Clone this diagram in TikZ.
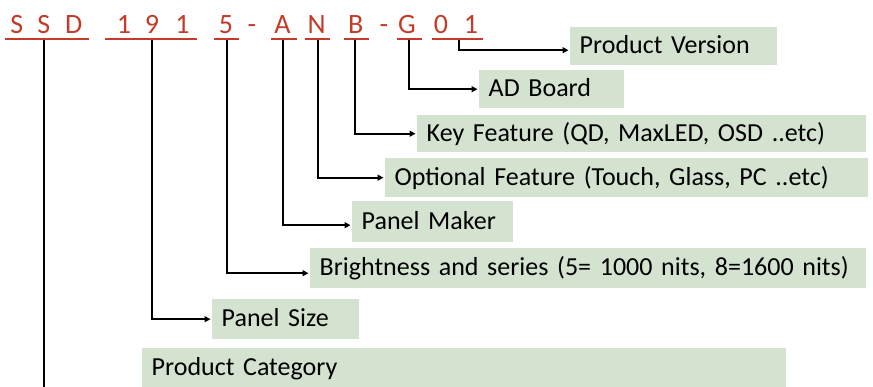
\documentclass[tikz,border=0pt]{standalone}
\usepackage{fontspec}
\setmainfont{Carlito}
\usetikzlibrary{arrows.meta}
\definecolor{codered}{RGB}{195,60,40}
\definecolor{boxgreen}{RGB}{211,227,207}
\begin{document}
\begin{tikzpicture}[x=1pt,y=-1pt,
  code/.style={text=codered, font=\fontsize{28}{30}\selectfont, anchor=base, inner sep=0pt},
  uline/.style={draw=codered, line width=2pt},
  lbl/.style={fill=boxgreen, anchor=north west, inner xsep=9.5pt, inner ysep=0pt,
    align=left, text height=20pt, text depth=5pt, font=\fontsize{26}{30}\selectfont},
  stem/.style={draw=black, line width=2.2pt, -{Triangle[length=6pt,width=6pt]}, shorten >=1.5pt},
  plainstem/.style={draw=black, line width=2pt}]
\useasboundingbox (0,0) rectangle (873,387);

% code letters
\node[code] (cS1) at (16.7,33.5) {S};
\node[code] (cS2) at (43.7,33.5) {S};
\node[code] (cD)  at (73.7,33.5) {D};
\node[code] (c1a) at (124,33.5) {1};
\node[code] (c9)  at (152,33.5) {9};
\node[code] (c1b) at (182.5,33.5) {1};
\node[code] (c5)  at (226,33.5) {5};
\node[code] (cd1) at (252,33.5) {-};
\node[code] (cA)  at (282.5,33.5) {A};
\node[code] (cN)  at (316.7,33.5) {N};
\node[code] (cB)  at (355.8,33.5) {B};
\node[code] (cd2) at (384,33.5) {-};
\node[code] (cG)  at (407,33.5) {G};
\node[code] (c0)  at (441,33.5) {0};
\node[code] (c1c) at (471,33.5) {1};

% underlines
\draw[uline] (5,39) -- (89,39);
\draw[uline] (105,39) -- (197,39);
\draw[uline] (214,39) -- (239,39);
\draw[uline] (271,39) -- (297,39);
\draw[uline] (305,39) -- (330,39);
\draw[uline] (344,39) -- (369,39);
\draw[uline] (397,39) -- (422,39);
\draw[uline] (432,39) -- (483,39);

% stem start points
\coordinate (uSSD) at (44,40);
\coordinate (u191) at (152,40);
\coordinate (u5)   at (227,40);
\coordinate (uA)   at (283,40);
\coordinate (uN)   at (318,40);
\coordinate (uB)   at (355,40);
\coordinate (uG)   at (409,40);
\coordinate (u01)  at (459,40);
\coordinate (bottom) at (44,387);

% boxes
\node[lbl, minimum height=38pt, text width=188pt] (pv) at (570,27) {Product Version};
\node[lbl, minimum height=38pt, text width=126pt] (ad) at (479,70) {AD Board};
\node[lbl, minimum height=37pt, text width=430pt] (kf) at (417,115) {Key Feature (QD, MaxLED, OSD ..etc)};
\node[lbl, minimum height=39pt, text width=464pt] (of) at (385,158) {Optional Feature (Touch, Glass, PC ..etc)};
\node[lbl, minimum height=41pt, text width=142pt] (pm) at (352,201) {Panel Maker};
\node[lbl, minimum height=40pt, text width=537pt] (br) at (310,248) {Brightness and series (5= 1000 nits, 8=1600 nits)};
\node[lbl, minimum height=40pt, text width=128pt] (ps) at (212,299) {Panel Size};
\node[lbl, minimum height=39pt, text width=625pt] (pc) at (142,348) {Product Category};

% connectors
\draw[stem] (u01) |- ([yshift=-4pt]pv.west);
\draw[stem] (uG) |- (ad.west);
\draw[stem] (uB) |- (kf.west);
\draw[stem] (uN) |- (of.west);
\draw[stem] (uA) |- ([yshift=-3.5pt]pm.west);
\draw[stem] (u5) |- ([yshift=-5pt]br.west);
\draw[stem] (u191) |- (ps.west);
\draw[plainstem] (uSSD) -- (bottom);
\end{tikzpicture}
\end{document}
